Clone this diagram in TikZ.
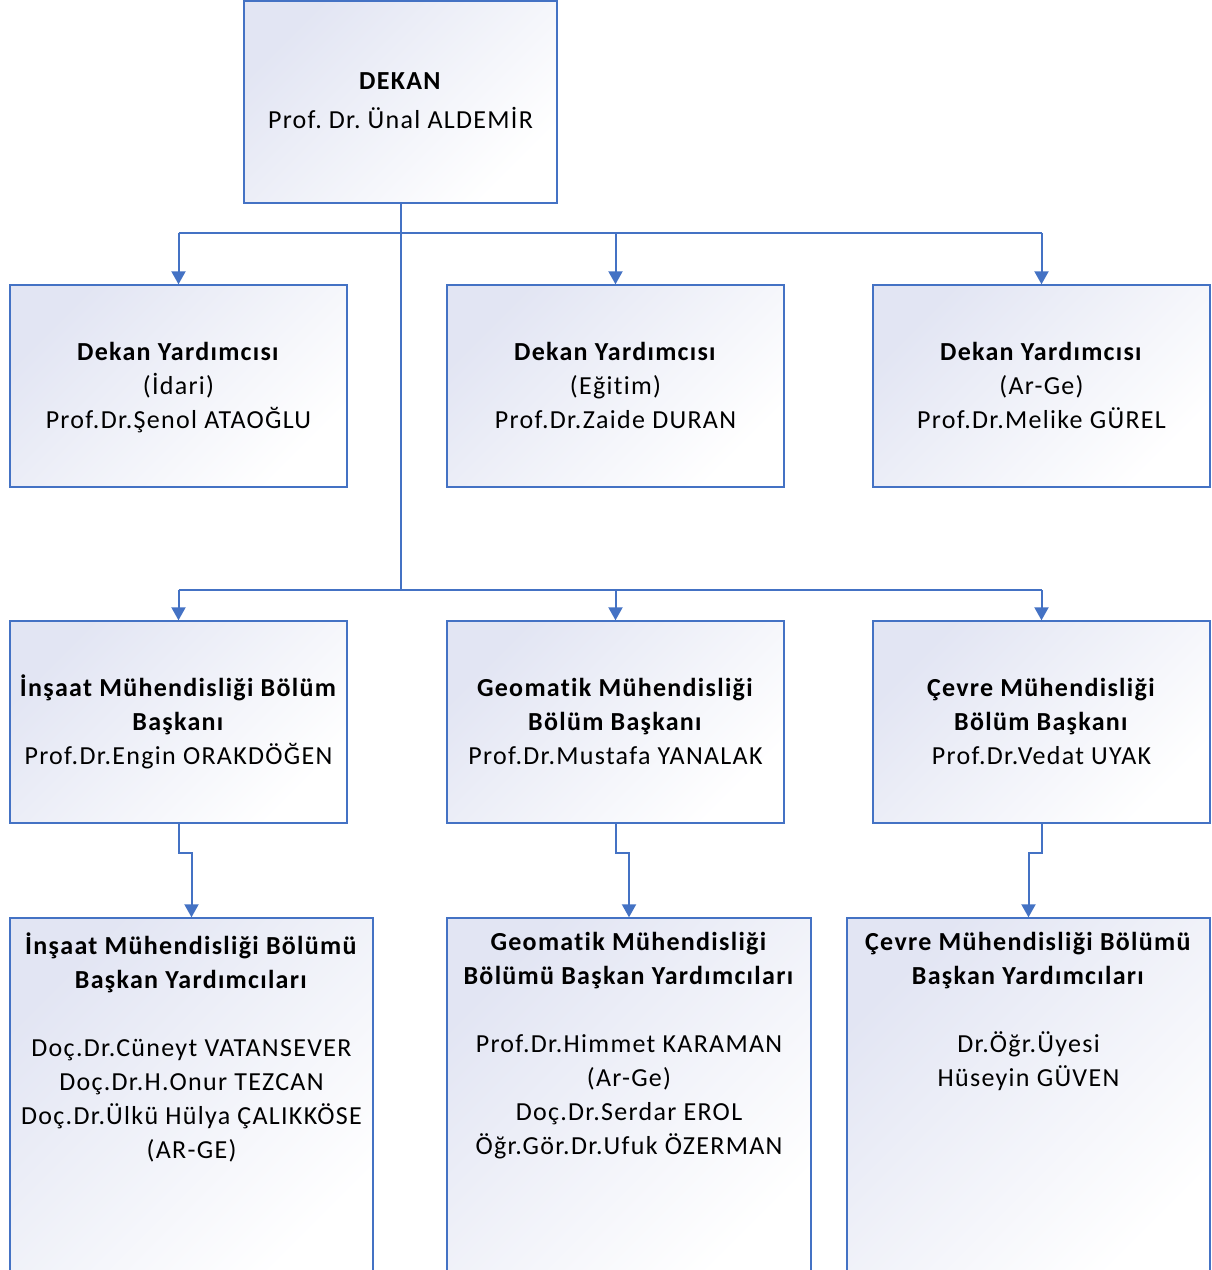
\documentclass[tikz,border=0pt]{standalone}
\usepackage{fontspec}
\setmainfont{Carlito}[LetterSpace=5, Ligatures=NoCommon]
\usetikzlibrary{arrows.meta}
\definecolor{linec}{RGB}{68,114,196}
\definecolor{fillc}{RGB}{226,229,243}
\frenchspacing
% fixed first-line height and last-line depth for the box texts
\newcommand\tstrut{\rule{0pt}{25pt}}
\newcommand\bstrut{\rule[-8pt]{0pt}{0pt}}
\begin{document}
\begin{tikzpicture}[x=1pt,y=-1pt,
  box/.style={draw=linec, line width=1.4pt, top color=fillc, bottom color=white,
    shading angle=45, inner sep=0pt, align=center,
    font=\fontsize{26}{34}\selectfont},
  wbox/.style={box, minimum width=337pt, minimum height=202pt},
  tbox/.style={box, minimum height=362pt},
  ttext/.style={anchor=north, align=center, inner sep=0pt,
    font=\fontsize{26}{34}\selectfont},
  link/.style={draw=linec, line width=2pt},
  arrow/.style={link, -{Triangle[length=13pt,width=14pt]}}]
\useasboundingbox (0,0) rectangle (1212,1270);
\fill[white] (0,0) rectangle (1212,1270);

% dean
\node[box, minimum width=313pt, minimum height=202pt] (dekan) at (400.5,102)
  {\tstrut\textbf{DEKAN}\\[5pt]Prof. Dr. Ünal ALDEMİR\rule[-12pt]{0pt}{0pt}};

% vice deans
\node[wbox] (vA) at (178.5,386) {\tstrut\textbf{Dekan Yardımcısı}\\(İdari)\\Prof.Dr.Şenol ATAOĞLU\bstrut};
\node[wbox] (vB) at (615.5,386) {\tstrut\textbf{Dekan Yardımcısı}\\(Eğitim)\\Prof.Dr.Zaide DURAN\bstrut};
\node[wbox] (vC) at (1041.5,386) {\tstrut\textbf{Dekan Yardımcısı}\\(Ar-Ge)\\Prof.Dr.Melike GÜREL\bstrut};

% heads of departments
\node[wbox] (hA) at (178.5,722) {\tstrut\textbf{İnşaat Mühendisliği Bölüm}\\\textbf{Başkanı}\\Prof.Dr.Engin ORAKDÖĞEN\bstrut};
\node[wbox] (hB) at (615.5,722) {\tstrut\textbf{Geomatik Mühendisliği}\\\textbf{Bölüm Başkanı}\\Prof.Dr.Mustafa YANALAK\bstrut};
\node[wbox] (hC) at (1041.5,722) {\tstrut\textbf{Çevre Mühendisliği}\\\textbf{Bölüm Başkanı}\\Prof.Dr.Vedat UYAK\bstrut};

% deputy heads
\node[tbox, minimum width=363pt] (dA) at (191.5,1099) {};
\node[tbox, minimum width=364pt] (dB) at (629,1099) {};
\node[tbox, minimum width=363pt] (dC) at (1028.5,1099) {};

\node[ttext] (tA) at ([yshift=-15pt]dA.north)
  {\textbf{İnşaat Mühendisliği Bölümü}\\\textbf{Başkan Yardımcıları}\\[34pt]
   Doç.Dr.Cüneyt VATANSEVER\\Doç.Dr.H.Onur TEZCAN\\Doç.Dr.Ülkü Hülya ÇALIKKÖSE\\(AR-GE)};
\node[ttext] (tB) at ([yshift=-15pt]dB.north)
  {\textbf{Geomatik Mühendisliği}\\\textbf{Bölümü Başkan Yardımcıları}\\[34pt]
   Prof.Dr.Himmet KARAMAN\\(Ar-Ge)\\Doç.Dr.Serdar EROL\\Öğr.Gör.Dr.Ufuk ÖZERMAN};
\node[ttext] (tC) at ([yshift=-15pt]dC.north)
  {\textbf{Çevre Mühendisliği Bölümü}\\\textbf{Başkan Yardımcıları}\\[34pt]
   Dr.Öğr.Üyesi\\Hüseyin GÜVEN};

% connectors
\coordinate (j1) at (400.5,233);
\coordinate (j2) at (400.5,590);
\draw[link] (dekan.south) -- (j2);
\draw[link] (vA.north |- j1) -- (vC.north |- j1);
\draw[link] (hA.north |- j2) -- (hC.north |- j2);
\foreach \n in {vA,vB,vC} \draw[arrow] (\n.north |- j1) -- (\n.north);
\foreach \n in {hA,hB,hC} \draw[arrow] (\n.north |- j2) -- (\n.north);
\foreach \a/\b in {hA/dA,hB/dB,hC/dC}
  \draw[arrow] (\a.south) -- ++(0,29) -| (\b.north);
\end{tikzpicture}
\end{document}
